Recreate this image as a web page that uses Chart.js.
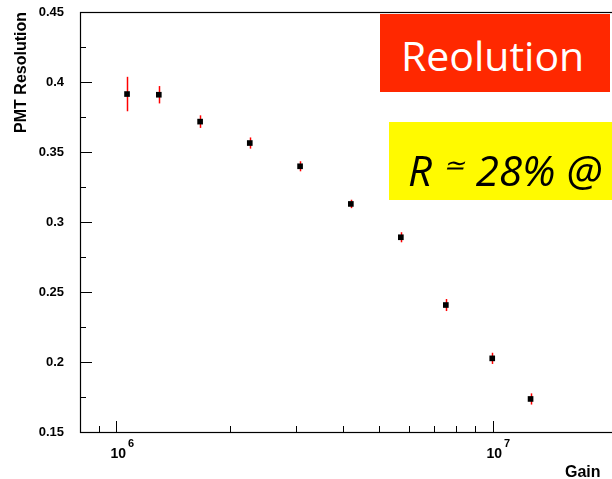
<!DOCTYPE html>
<html>
<head>
<meta charset="utf-8">
<script src="https://cdn.jsdelivr.net/npm/chart.js@4.4.1/dist/chart.umd.min.js"></script>
<style>
  html, body { margin: 0; padding: 0; background: #fff; overflow: hidden; }
  #wrap { position: relative; width: 612px; height: 479px; overflow: hidden; }
  #myChart { position: absolute; left: 0; top: 0; }
  .box { position: absolute; }
  .red { left: 380px; top: 14px; width: 230px; height: 78px; background: #ff2800; }
  .yellow { left: 389px; top: 122px; width: 260px; height: 78px; background: #fffa00; }
  .txt { position: absolute; white-space: nowrap; font-family: "Open Sans", sans-serif; }
  .t1 { left: 401px; top: 35px; font-size: 41px; line-height: 41px; color: #fff; }
  .t2 { left: 408px; top: 143px; font-size: 42px; line-height: 42px; color: #000; font-style: italic; }
  .t2 .approx { font-size: 26px; vertical-align: 12px; }
</style>
</head>
<body>
<div id="wrap">
  <canvas id="myChart" width="760" height="479"></canvas>
  <div class="box red"></div>
  <div class="box yellow"></div>
  <div class="txt t1">Reolution</div>
  <div class="txt t2">R <span class="approx">≃</span> 28% @</div>
</div>
<script>
// gain of the PMT and measured resolution
const gain = [1.067e6, 1.296e6, 1.669e6, 2.262e6, 3.078e6, 4.20e6, 5.704e6, 7.513e6, 9.98e6, 1.262e7]
const resolution = [0.3914, 0.3909, 0.3717, 0.3564, 0.3398, 0.3129, 0.2891, 0.2407, 0.2026, 0.1736]
const resolutionErr = [0.0123, 0.0062, 0.0045, 0.004, 0.0036, 0.003, 0.0036, 0.0043, 0.004, 0.004]

const yTicks = [0.15, 0.2, 0.25, 0.3, 0.35, 0.4, 0.45]
const yMinorTicks = [0.175, 0.225, 0.275, 0.325, 0.375, 0.425]
const xTicks = [1e6, 1e7]
const xTickExp = ['6', '7']
const xMinorTicks = [9e5, 2e6, 3e6, 4e6, 5e6, 6e6, 7e6, 8e6, 9e6]

const rootStyle = {
  id: 'rootStyle',
  beforeDatasetsDraw(chart) {
    const ctx = chart.ctx
    const xs = chart.scales.x
    const ys = chart.scales.y
    ctx.save()
    ctx.strokeStyle = '#ff0000'
    ctx.lineWidth = 1.5
    gain.forEach((g, i) => {
      const px = Math.round(xs.getPixelForValue(g)) + 0.5
      ctx.beginPath()
      ctx.moveTo(px, ys.getPixelForValue(resolution[i] + resolutionErr[i]))
      ctx.lineTo(px, ys.getPixelForValue(resolution[i] - resolutionErr[i]))
      ctx.stroke()
    })
    ctx.restore()
  },
  afterDraw(chart) {
    const ctx = chart.ctx
    const a = chart.chartArea
    const xs = chart.scales.x
    const ys = chart.scales.y
    ctx.save()
    ctx.strokeStyle = '#000'
    ctx.lineWidth = 1.2
    ctx.strokeRect(Math.round(a.left) + 0.5, Math.round(a.top) + 0.5, a.right - a.left, a.bottom - a.top)

    ctx.lineWidth = 1
    // y ticks, drawn inwards
    const tick = (list, len) => list.forEach(v => {
      const py = Math.round(ys.getPixelForValue(v)) + 0.5
      ctx.beginPath()
      ctx.moveTo(a.left, py)
      ctx.lineTo(a.left + len, py)
      ctx.stroke()
    })
    tick(yTicks, 12)
    tick(yMinorTicks, 6)

    // x ticks
    const xtick = (list, len) => list.forEach(v => {
      const px = Math.round(xs.getPixelForValue(v)) + 0.5
      ctx.beginPath()
      ctx.moveTo(px, a.bottom)
      ctx.lineTo(px, a.bottom - len)
      ctx.stroke()
    })
    xtick(xTicks, 11)
    xtick(xMinorTicks, 6)

    // x labels 10^n
    ctx.fillStyle = '#000'
    ctx.textBaseline = 'alphabetic'
    xTicks.forEach((v, i) => {
      const px = xs.getPixelForValue(v) - 6
      ctx.font = 'bold 14px "Liberation Sans", Arial, sans-serif'
      ctx.fillText('10', px, a.bottom + 26)
      const w = ctx.measureText('10').width
      ctx.font = 'bold 11px "Liberation Sans", Arial, sans-serif'
      ctx.fillText(xTickExp[i], px + w + 2, a.bottom + 15)
    })

    ctx.font = 'bold 16px "Liberation Sans", Arial, sans-serif'
    ctx.fillText('Gain', 565, 477)
    ctx.restore()
  }
}

const chart = new Chart(document.getElementById('myChart'), {
  type: 'scatter',
  data: {
    datasets: [{
      data: gain.map((g, i) => ({ x: g, y: resolution[i] })),
      pointStyle: 'rect',
      pointRadius: 4,
      backgroundColor: '#000',
      borderColor: '#000',
      borderWidth: 0
    }]
  },
  options: {
    responsive: false,
    animation: false,
    events: [],
    layout: { padding: { top: 12, right: 88, left: 0, bottom: 0 } },
    plugins: { legend: { display: false }, tooltip: { enabled: false } },
    scales: {
      x: {
        type: 'logarithmic',
        min: 8e5,
        max: 3e7,
        grid: { display: false },
        border: { display: false },
        ticks: { display: false },
        afterFit(s) { s.height = 47; s.paddingLeft = 0; s.paddingRight = 0 }
      },
      y: {
        min: 0.15,
        max: 0.45,
        afterBuildTicks(s) { s.ticks = yTicks.map(v => ({ value: v })) },
        ticks: {
          color: '#000',
          padding: 16,
          font: { family: '"Liberation Sans", Arial, sans-serif', weight: 'bold', size: 13 },
          callback: v => String(v)
        },
        grid: { display: false, drawTicks: false },
        border: { display: false },
        title: {
          display: true,
          text: 'PMT Resolution',
          align: 'end',
          color: '#000',
          font: { family: '"Liberation Sans", Arial, sans-serif', weight: 'bold', size: 16 },
          padding: { top: 12, bottom: 0 }
        },
        afterFit(s) { s.width = 80; s.paddingTop = 0; s.paddingBottom = 0 }
      }
    }
  },
  plugins: [rootStyle]
})
</script>
</body>
</html>
